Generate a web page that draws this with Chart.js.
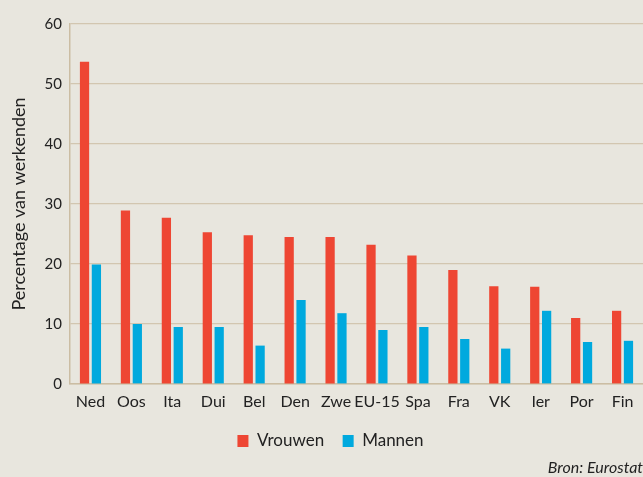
<!DOCTYPE html>
<html>
<head>
<meta charset="utf-8">
<script src="https://cdn.jsdelivr.net/npm/chart.js@4.4.1/dist/chart.umd.min.js"></script>
<style>
  html, body { margin: 0; padding: 0; background: #E8E6DE; }
  #wrap { width: 643px; height: 477px; }
</style>
</head>
<body>
<div id="wrap"><canvas id="c" width="643" height="477"></canvas></div>
<script>
const categories = ['Ned', 'Oos', 'Ita', 'Dui', 'Bel', 'Den', 'Zwe', 'EU-15', 'Spa', 'Fra', 'VK', 'Ier', 'Por', 'Fin'];
const vrouwen = [53.7, 28.9, 27.7, 25.3, 24.8, 24.5, 24.5, 23.2, 21.4, 19.0, 16.3, 16.2, 11.0, 12.2];
const mannen  = [19.9, 10.0, 9.5, 9.5, 6.4, 14.0, 11.8, 9.0, 9.5, 7.5, 5.9, 12.2, 7.0, 7.2];
const yTicks = [0, 10, 20, 30, 40, 50, 60];

const FONT = 'Lato, "Open Sans", sans-serif';
const TEXT = '#222222';
const GRID = '#D2C6B0';

new Chart(document.getElementById('c'), {
  type: 'bar',
  data: {
    labels: categories,
    datasets: [
      { label: 'Vrouwen', data: vrouwen, backgroundColor: '#EE4633', borderWidth: 0 },
      { label: 'Mannen', data: mannen, backgroundColor: '#00A9DE', borderWidth: 0 }
    ]
  },
  options: {
    responsive: false,
    animation: false,
    devicePixelRatio: 1,
    layout: { padding: { left: 18, right: 0, top: 24, bottom: 0 } },
    datasets: { bar: { categoryPercentage: 0.58, barPercentage: 0.78 } },
    scales: {
      x: {
        grid: { display: false, drawTicks: false, tickLength: 0 },
        border: { display: true, color: '#CBBDA3', width: 1.5 },
        ticks: { color: TEXT, font: { family: FONT, size: 16 }, padding: 8, maxRotation: 0, autoSkip: false },
        afterFit: (s) => { s.height = 30; }
      },
      y: {
        min: 0, max: 60,
        afterBuildTicks: (s) => { s.ticks = yTicks.map(v => ({ value: v })); },
        grid: { color: GRID, lineWidth: 1.2, drawTicks: false },
        border: { display: true, color: '#CBBDA3', width: 1.5 },
        ticks: { color: TEXT, font: { family: FONT, size: 15 }, padding: 8 },
        title: { display: true, text: 'Percentage van werkenden', color: TEXT, font: { family: FONT, size: 18 }, padding: { top: -9.5, bottom: 0 } },
        afterFit: (s) => { s.width = 52; }
      }
    },
    plugins: {
      legend: {
        position: 'bottom',
        maxHeight: 43.8,
        labels: { color: TEXT, font: { family: FONT, size: 17 }, boxWidth: 11, boxHeight: 12, padding: 18.5 }
      },
      title: {
        display: true,
        position: 'bottom',
        align: 'end',
        text: 'Bron: Eurostat',
        color: TEXT,
        font: { family: FONT, size: 16, style: 'italic', weight: 'normal' },
        padding: { top: 0, bottom: 0 }
      },
      tooltip: { enabled: false }
    }
  }
});
</script>
</body>
</html>
